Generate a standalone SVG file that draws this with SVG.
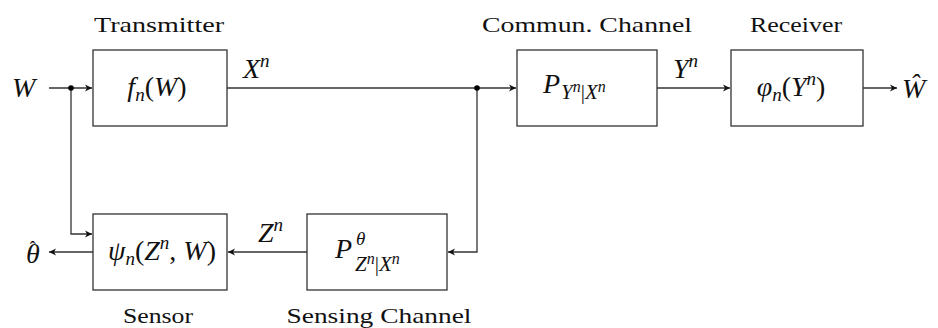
<svg xmlns="http://www.w3.org/2000/svg" width="938" height="328" viewBox="0 0 938 328">
<style>
.box{fill:#fff;stroke:#333;stroke-width:1.3}
.ln{fill:none;stroke:#333;stroke-width:1.3}
.lbl{font-family:"Liberation Serif","DejaVu Serif",serif;font-size:22px;fill:#111;text-anchor:middle}
.m{font-family:"Liberation Serif","DejaVu Serif",serif;font-size:28px;fill:#111;font-style:italic}
.r{font-style:normal}
.s{font-size:19px}
.sb{font-size:21px}
.ss{font-size:16px}
</style>
<defs>
<marker id="ah" markerUnits="userSpaceOnUse" viewBox="-8 -4 9 8" refX="0" refY="0" markerWidth="9" markerHeight="8" orient="auto">
<path d="M0,0 L-7,-3.5 L-5,0 L-7,3.5 Z" fill="#111"/>
</marker>
</defs>
<g id="connectors">
<line class="ln" x1="49" y1="88" x2="92" y2="88" marker-end="url(#ah)"/>
<path class="ln" d="M71,88 V234 H92" marker-end="url(#ah)"/>
<line class="ln" x1="227" y1="88" x2="516" y2="88" marker-end="url(#ah)"/>
<path class="ln" d="M477,88 V252 H448" marker-end="url(#ah)"/>
<line class="ln" x1="657" y1="88" x2="730" y2="88" marker-end="url(#ah)"/>
<line class="ln" x1="863" y1="88" x2="897" y2="88" marker-end="url(#ah)"/>
<line class="ln" x1="307" y1="252" x2="228" y2="252" marker-end="url(#ah)"/>
<line class="ln" x1="93" y1="252" x2="49" y2="252" marker-end="url(#ah)"/>
<circle cx="71" cy="88" r="2.8" fill="#000"/>
<circle cx="477" cy="88" r="2.8" fill="#000"/>
<text class="m" x="12" y="97">W</text>
<text class="m" x="243" y="78">X<tspan class="s" dy="-11">n</tspan></text>
<text class="m" x="673" y="78">Y<tspan class="s" dy="-11">n</tspan></text>
<text class="m" x="902" y="98">Ŵ</text>
<text class="m" x="258" y="242">Z<tspan class="s" dy="-11">n</tspan></text>
<text class="m" x="26" y="263">θ<tspan class="r" font-size="18" dx="-10" dy="-9">ˆ</tspan></text>
</g>
<g id="transmitter">
<rect class="box" x="93" y="50" width="134" height="76"/>
<text class="lbl" x="159" y="32" textLength="130" lengthAdjust="spacingAndGlyphs">Transmitter</text>
<text class="m" x="157" y="96" text-anchor="middle">f<tspan class="s" dy="5">n</tspan><tspan class="r" dy="-5">(</tspan>W<tspan class="r">)</tspan></text>
</g>
<g id="commun-channel">
<rect class="box" x="517" y="50" width="140" height="76"/>
<text class="lbl" x="587" y="32" textLength="210" lengthAdjust="spacingAndGlyphs">Commun. Channel</text>
<text class="m" x="543" y="93">P</text>
<text class="m sb" x="561" y="99">Y<tspan class="ss" dy="-7">n</tspan><tspan class="r" dy="7">|</tspan>X<tspan class="ss" dy="-7">n</tspan></text>
</g>
<g id="receiver">
<rect class="box" x="731" y="50" width="132" height="76"/>
<text class="lbl" x="796" y="32" textLength="92" lengthAdjust="spacingAndGlyphs">Receiver</text>
<text class="m" x="791" y="96" text-anchor="middle">φ<tspan class="s" dy="5">n</tspan><tspan class="r" dy="-5">(</tspan>Y<tspan class="s" dy="-11">n</tspan><tspan class="r" dy="11">)</tspan></text>
</g>
<g id="sensor">
<rect class="box" x="93" y="214" width="134" height="76"/>
<text class="lbl" x="158" y="323" textLength="70" lengthAdjust="spacingAndGlyphs">Sensor</text>
<text class="m" x="162" y="260" text-anchor="middle">ψ<tspan class="s" dy="5">n</tspan><tspan class="r" dy="-5">(</tspan>Z<tspan class="s" dy="-11">n</tspan><tspan class="r" dy="11">, </tspan>W<tspan class="r">)</tspan></text>
</g>
<g id="sensing-channel">
<rect class="box" x="307" y="214" width="140" height="76"/>
<text class="lbl" x="379" y="323" textLength="185" lengthAdjust="spacingAndGlyphs">Sensing Channel</text>
<text class="m" x="335" y="258">P</text>
<text class="m s" x="356" y="245">θ</text>
<text class="m sb" x="355" y="271">Z<tspan class="ss" dy="-7">n</tspan><tspan class="r" dy="7">|</tspan>X<tspan class="ss" dy="-7">n</tspan></text>
</g>
</svg>
